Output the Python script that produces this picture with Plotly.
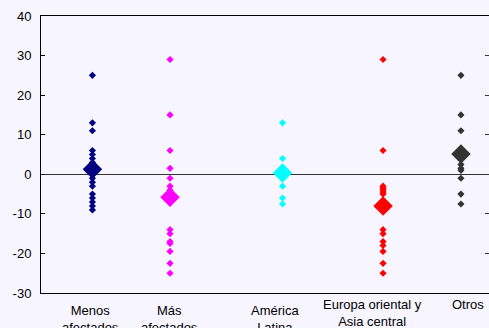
import plotly.graph_objects as go

# ---- data ----
categories = ["Menos<br>afectados", "Más<br>afectados", "América<br>Latina",
              "Europa oriental y<br>Asia central", "Otros"]
menos = [25, 13, 11, 6, 5, 4, 3, 2, 1, 0, -1, -2, -3, -5, -6, -7, -8, -9]
mas = [29, 15, 6, 1.5, -1, -3, -4, -14, -15, -17, -17.5, -19.5, -22.5, -25]
america = [13, 4, 1.5, 1, 0, -1, -3, -6, -7.5]
europa = [29, 6, -3, -3.5, -4, -4.5, -5, -14, -15, -17, -18, -19.5, -22.5, -25]
otros = [25, 15, 11, 2.5, 1.5, 1, -1, -5, -7.5]
means = [1.3, -5.8, 0.3, -8.0, 5.1]
y_ticks = [-30, -20, -10, 0, 10, 20, 30, 40]
y_tick_text = ["-30", "-20", "-10", "0", "10", "20", "30", "40"]

# ---- layout helpers (positions / styles) ----
x_pos = [0.66, 1.656, 3.10, 4.39, 5.39]
label_pos = [0.63, 1.65, 3.0, 4.25, 5.48]
label_shift = [-6, -6, -6, 0, 0]
colors = ["#000080", "#FF00FF", "#00FFFF", "#FF0000", "#333333"]
series = [menos, mas, america, europa, otros]
BG = "#F7F5FF"
FONT = "Arial, Liberation Sans, sans-serif"

fig = go.Figure()

for xp, m, c in zip(x_pos, means, colors):
    fig.add_trace(go.Scatter(x=[xp], y=[m], mode="markers",
                             marker=dict(symbol="diamond", size=15, color=c,
                                         line=dict(width=0)),
                             showlegend=False, hoverinfo="skip"))

for xp, vals, c in zip(x_pos, series, colors):
    fig.add_trace(go.Scatter(x=[xp] * len(vals), y=vals, mode="markers",
                             marker=dict(symbol="diamond", size=5.5, color=c,
                                         line=dict(width=0)),
                             showlegend=False, hoverinfo="skip"))

# helper trace for the right-hand tick marks
fig.add_trace(go.Scatter(x=[None], y=[None], yaxis="y2", showlegend=False))

for lp, txt, sh in zip(label_pos, categories, label_shift):
    fig.add_annotation(x=lp, y=0, xref="x", yref="paper", text=txt,
                       showarrow=False, yanchor="top", yshift=-2 + sh,
                       font=dict(family=FONT, size=13, color="black"))

fig.update_layout(
    width=489, height=328,
    margin=dict(l=41, r=0, t=16, b=35),
    paper_bgcolor=BG, plot_bgcolor=BG,
    font=dict(family=FONT, size=13, color="black"),
    xaxis=dict(range=[0, 5.75], showgrid=False, zeroline=False,
               showticklabels=False, ticks="", showline=True,
               linecolor="black", linewidth=1, mirror=True),
    yaxis=dict(range=[-30, 40], tickvals=y_ticks, ticktext=y_tick_text,
               showgrid=False,
               zeroline=True, zerolinecolor="#333333", zerolinewidth=1,
               ticks="inside", ticklen=4, tickcolor="black",
               showline=True, linecolor="black", linewidth=1,
               ticklabelstandoff=6,
               tickfont=dict(family=FONT, size=13, color="black")),
    yaxis2=dict(range=[-30, 40], tickvals=y_ticks, overlaying="y",
                side="right", showgrid=False, zeroline=False,
                showticklabels=False, ticks="inside", ticklen=4,
                tickcolor="#333333", showline=False),
)

fig.write_html(
    "out.html",
    config={"displayModeBar": False},
    post_script="document.body.style.margin='0';"
                "document.body.style.overflow='hidden';"
                "document.body.style.background='" + BG + "';",
)
